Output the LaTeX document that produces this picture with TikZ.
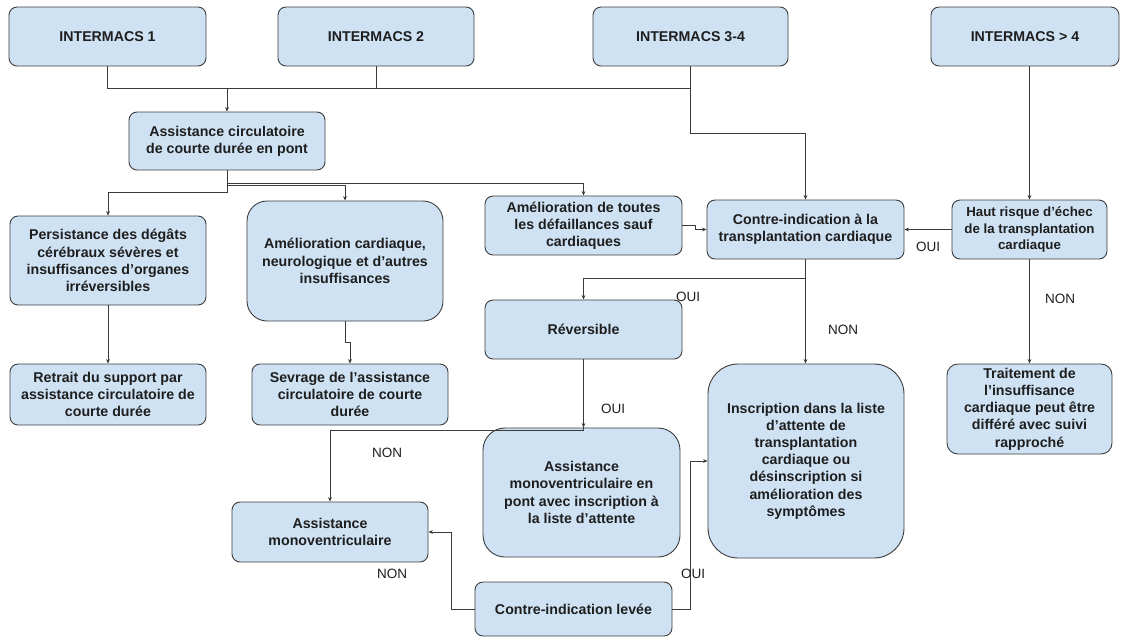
\documentclass[tikz,border=0pt]{standalone}
\usepackage{fontspec}
\setmainfont{Liberation Sans}
\usetikzlibrary{arrows.meta}
\definecolor{boxfill}{HTML}{CFE2F3}
\definecolor{boxline}{HTML}{3C3C3C}
\definecolor{linecol}{HTML}{3A3A3A}
\definecolor{textcol}{HTML}{1E1E1E}
\newcommand{\boxfont}{\bfseries\fontsize{14.2}{17.2}\selectfont}
\newcommand{\smallboxfont}{\bfseries\fontsize{13.3}{16.2}\selectfont}
\newcommand{\labfont}{\fontsize{13.5}{16}\selectfont}
\begin{document}
\begin{tikzpicture}[x=1pt,y=-1pt,
  box/.style={draw=boxline, fill=boxfill, line width=0.9pt, rounded corners=8pt,
    align=center, font=\boxfont, text=textcol, inner sep=0pt},
  bigbox/.style={box, rounded corners=20pt},
  conn/.style={draw=linecol, line width=0.8pt, -{Stealth[length=4.5pt,width=3.8pt]}},
  plain/.style={draw=linecol, line width=0.8pt},
  lab/.style={font=\labfont, text=textcol, inner sep=0pt}]
\useasboundingbox (0,0) rectangle (1121,638);

% top row
\node[box, minimum width=197, minimum height=59] (int1) at (107.5,36.5) {INTERMACS 1};
\node[box, minimum width=196, minimum height=59] (int2) at (376,36.5) {INTERMACS 2};
\node[box, minimum width=195, minimum height=59] (int34) at (690.5,36.5) {INTERMACS 3-4};
\node[box, minimum width=188, minimum height=59] (int4) at (1025,36.5) {INTERMACS > 4};

% short-term support
\node[box, minimum width=196, minimum height=58] (acd) at (227,141) {Assistance circulatoire\\de courte durée en pont};

% second row
\node[box, minimum width=196, minimum height=89] (pers) at (108,260.5)
  {Persistance des dégâts\\cérébraux sévères et\\insuffisances d’organes\\irréversibles};
\node[bigbox, minimum width=196, minimum height=120] (amc) at (345,261)
  {Amélioration cardiaque,\\neurologique et d’autres\\insuffisances};
\node[box, minimum width=197, minimum height=59] (amt) at (583.5,225.5)
  {Amélioration de toutes\\les défaillances sauf\\cardiaques};
\node[box, minimum width=197, minimum height=59] (ci) at (805.5,229.5)
  {Contre-indication à la\\transplantation cardiaque};
\node[box, font=\smallboxfont, minimum width=155, minimum height=59] (hr) at (1029.5,229.5)
  {Haut risque d’échec\\de la transplantation\\cardiaque};

% third row
\node[box, minimum width=196, minimum height=61] (retr) at (108,394.5)
  {Retrait du support par\\assistance circulatoire de\\courte durée};
\node[box, minimum width=196, minimum height=61] (sev) at (350,394.5)
  {Sevrage de l’assistance\\circulatoire de courte\\durée};
\node[box, minimum width=197, minimum height=59] (rev) at (583.5,329.5) {Réversible};
\node[box, rounded corners=30pt, minimum width=196, minimum height=194] (insc) at (806,461)
  {Inscription dans la liste\\d’attente de\\transplantation\\cardiaque ou\\désinscription si\\amélioration des\\symptômes};
\node[box, rounded corners=11pt, minimum width=165, minimum height=90] (trait) at (1029.5,409)
  {Traitement de\\l’insuffisance\\cardiaque peut être\\différé avec suivi\\rapproché};

% bottom part
\node[box, rounded corners=22pt, minimum width=197, minimum height=129] (amp) at (581.5,492.5)
  {Assistance\\monoventriculaire en\\pont avec inscription à\\la liste d’attente};
\node[box, minimum width=196, minimum height=60] (amv) at (330,532)
  {Assistance\\monoventriculaire};
\node[box, minimum width=197, minimum height=54] (cil) at (573.5,609) {Contre-indication levée};

% bend levels of the elbow connectors
\coordinate (bus) at (0,88);
\coordinate (lvl34) at (0,133);
\coordinate (lvlA) at (0,183);
\coordinate (lvlB) at (0,185);
\coordinate (lvlC) at (0,192);
\coordinate (lvlS) at (0,342);
\coordinate (lvlR) at (0,278);
\coordinate (lvlV) at (0,430);

% INTERMACS levels
\draw[conn] (int1.south) -- (int1.south |- bus) -| (acd.north);
\draw[plain] (int2.south) -- (int2.south |- bus) -- (acd.north |- bus);
\draw[plain] (int34.south) -- (int34.south |- bus) -- (acd.north |- bus);
\draw[conn] (int34.south) -- (int34.south |- lvl34) -- (ci.north |- lvl34) -- (ci.north);
\draw[conn] (hr.north |- int4.south) -- (hr.north);

% outcomes of short-term support
\draw[conn] (acd.south) -- (acd.south |- lvlA) -| (amt.north);
\draw[conn] (acd.south) -- (acd.south |- lvlB) -| (amc.north);
\draw[conn] (acd.south) -- (acd.south |- lvlC) -| (pers.north);
\draw[conn] (pers.south) -- (retr.north);
\draw[conn] (amc.south) -- (amc.south |- lvlS) -| (sev.north);
\draw[conn] (amt.east) -- ++(13,0) |- (ci.west);

% transplant decisions
\draw[conn] (hr.west) -- (ci.east);
\draw[conn] (hr.south) -- (trait.north);
\draw[conn] (ci.south) -- (ci.south |- lvlR) -| (rev.north);
\draw[conn] (ci.south) -- (ci.south |- insc.north);
\draw[conn] (rev.south) -- (rev.south |- amp.north);
\draw[conn] (rev.south) -- (rev.south |- lvlV) -| (amv.north);
\draw[conn] (cil.west) -- ++(-23,0) |- (amv.east);
\draw[conn] (cil.east) -- ++(18,0) |- (insc.west);

% answer labels
\node[lab] (l1) at (928,247) {OUI};
\node[lab] (l2) at (1060,299) {NON};
\node[lab] (l3) at (688,297) {OUI};
\node[lab] (l4) at (843,330) {NON};
\node[lab] (l5) at (613,409) {OUI};
\node[lab] (l6) at (387,453) {NON};
\node[lab] (l7) at (392,574) {NON};
\node[lab] (l8) at (693,574) {OUI};
\end{tikzpicture}
\end{document}
